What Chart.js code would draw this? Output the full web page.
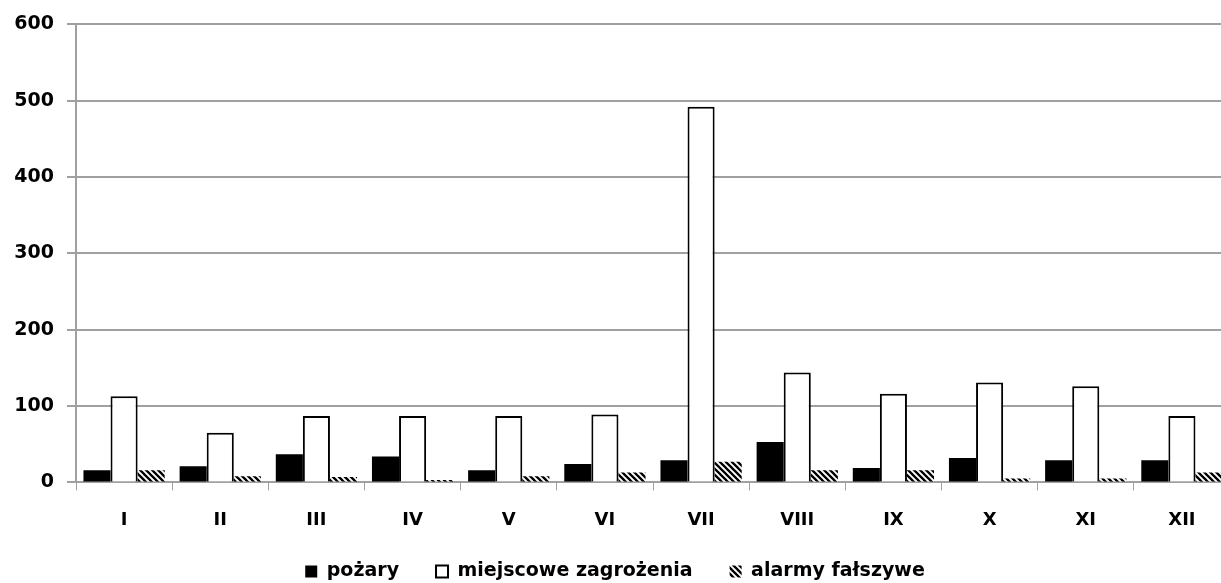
<!DOCTYPE html>
<html>
<head>
<meta charset="utf-8">
<script src="https://cdn.jsdelivr.net/npm/chart.js@4.4.1/dist/chart.umd.min.js"></script>
<style>
html,body{margin:0;padding:0;background:#fff;overflow:hidden;width:1221px;height:583px;}
#wrap{position:absolute;left:0;top:0;width:1234px;height:583px;}
</style>
</head>
<body>
<div id="wrap"><canvas id="c" width="1234" height="583"></canvas></div>
<script>
const categories = ['I','II','III','IV','V','VI','VII','VIII','IX','X','XI','XII'];
const pozary = [16, 21, 37, 34, 16, 24, 29, 53, 19, 32, 29, 29];
const miejscowe = [113, 65, 87, 87, 87, 89, 492, 144, 116, 131, 126, 87];
const alarmy = [16, 8, 7, 3, 8, 13, 27, 16, 16, 5, 5, 13];
const seriesNames = ['pożary', 'miejscowe zagrożenia', 'alarmy fałszywe'];
const yTicks = [0, 100, 200, 300, 400, 500, 600];

function hatch(){
  const c = document.createElement('canvas'); c.width = 6; c.height = 6;
  const x = c.getContext('2d');
  x.fillStyle = '#fff'; x.fillRect(0,0,6,6);
  x.strokeStyle = '#000'; x.lineWidth = 2.3; x.beginPath();
  x.moveTo(-1,-1); x.lineTo(7,7);
  x.moveTo(-1,5); x.lineTo(1,7);
  x.moveTo(5,-1); x.lineTo(7,1);
  x.stroke();
  return x.createPattern(c, 'repeat');
}

const FONT = "'DejaVu Sans', Verdana, sans-serif";
new Chart(document.getElementById('c'), {
  type: 'bar',
  data: {
    labels: categories,
    datasets: [
      {label: seriesNames[0], data: pozary, backgroundColor: '#000', borderColor: '#000', borderWidth: 0},
      {label: seriesNames[1], data: miejscowe, backgroundColor: '#fff', borderColor: '#000', borderWidth: 2, borderSkipped: 'bottom'},
      {label: seriesNames[2], data: alarmy, backgroundColor: hatch(), borderColor: '#000', borderWidth: 0}
    ]
  },
  options: {
    responsive: false,
    devicePixelRatio: 1,
    animation: false,
    categoryPercentage: 0.845,
    barPercentage: 1.0,
    layout: {padding: {top: 7, left: 0, right: 4, bottom: -8}},
    plugins: {
      tooltip: {enabled: false},
      legend: {
        position: 'bottom',
        labels: {
          color: '#000',
          font: {family: FONT, size: 19, weight: 'bold'},
          boxWidth: 12, boxHeight: 12, padding: 37
        }
      }
    },
    scales: {
      x: {
        grid: {display: true, drawOnChartArea: false, drawTicks: true, tickLength: 8, color: '#a0a0a0', offset: true},
        border: {display: true, color: '#a0a0a0', width: 2},
        ticks: {color: '#000', font: {family: FONT, size: 18, weight: 'bold'}, padding: 19},
        afterFit: (s) => { s.height -= 25; }
      },
      y: {
        min: 0, max: 600,
        afterBuildTicks: (s) => { s.ticks = yTicks.map(v => ({value: v})); },
        afterFit: (s) => { s.width = 76; },
        grid: {color: '#a0a0a0', lineWidth: 2, tickLength: 9},
        border: {display: true, color: '#a0a0a0', width: 2},
        ticks: {color: '#000', font: {family: FONT, size: 19, weight: 'bold'}, padding: 13}
      }
    }
  }
});
</script>
</body>
</html>
